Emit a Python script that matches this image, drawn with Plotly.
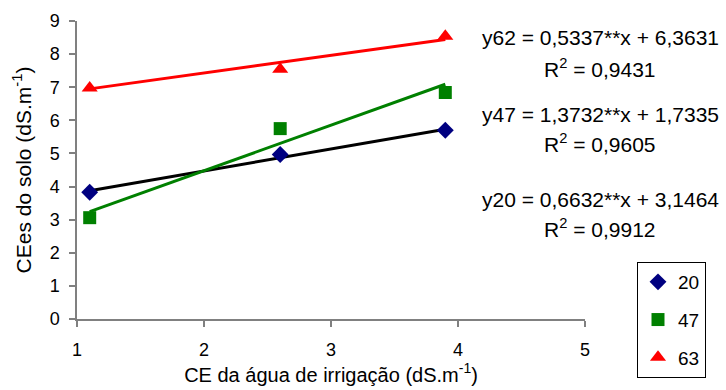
import plotly.graph_objects as go

# Irrigation water EC (x) and soil EC (y) for each treatment
x_vals = [1.1, 2.6, 3.9]
series_names = ["20", "47", "63"]
y_20 = [3.83, 4.97, 5.70]
y_47 = [3.06, 5.75, 6.84]
y_63 = [6.98, 7.54, 8.54]

# Fitted regression coefficients (slope, intercept), R² and equation text
fits = {
    "20": (0.6632, 3.1464, "0,9912", "y20 = 0,6632**x + 3,1464"),
    "47": (1.3732, 1.7335, "0,9605", "y47 = 1,3732**x + 1,7335"),
    "63": (0.5337, 6.3631, "0,9431", "y62 = 0,5337**x + 6,3631"),
}

x_ticks = [1, 2, 3, 4, 5]
y_ticks = list(range(10))

FONT = "Liberation Sans, Arial, sans-serif"
AXIS_GRAY = "#808080"

marker_styles = {
    "20": dict(symbol="diamond", color="#000080", size=13),
    "47": dict(symbol="square", color="#008000", size=13),
    "63": dict(symbol="triangle-up", color="#FF0000", size=14),
}
line_colors = {"20": "#000000", "47": "#008000", "63": "#FF0000"}
series_y = {"20": y_20, "47": y_47, "63": y_63}

fig = go.Figure()

# Regression lines across the measured range
for name in series_names:
    slope, intercept, _, _ = fits[name]
    xs = [min(x_vals), max(x_vals)]
    ys = [slope * v + intercept for v in xs]
    fig.add_trace(go.Scatter(
        x=xs, y=ys, mode="lines",
        line=dict(color=line_colors[name], width=3),
        showlegend=False, hoverinfo="skip",
    ))

# Observed points
for name in series_names:
    fig.add_trace(go.Scatter(
        x=x_vals, y=series_y[name], mode="markers", name=name,
        legendgroup=name,
        marker=dict(symbol=marker_styles[name]["symbol"],
                    color=marker_styles[name]["color"],
                    size=marker_styles[name]["size"],
                    line=dict(width=0)),
    ))

L, R, T, B = 77, 141, 21, 71
W, H = 726, 390
pw, ph = W - L - R, H - T - B


def px_to_paper(px, py):
    return (px - L) / pw, (H - B - py) / ph


# Equation labels: (series, equation row y, R² row y) in pixels
label_rows = [
    ("63", 37, 68),
    ("47", 114, 143),
    ("20", 199, 228),
]
annotations = []
for name, y_eq, y_r2 in label_rows:
    _, _, r2, eq = fits[name]
    ax, ay = px_to_paper(600, y_eq)
    annotations.append(dict(
        text=eq, x=ax, y=ay, xref="paper", yref="paper",
        xanchor="center", yanchor="middle", showarrow=False,
        font=dict(family=FONT, size=21, color="#000000"),
    ))
    ax, ay = px_to_paper(600, y_r2)
    annotations.append(dict(
        text="R<sup>2</sup> = " + r2, x=ax, y=ay, xref="paper", yref="paper",
        xanchor="center", yanchor="middle", showarrow=False,
        font=dict(family=FONT, size=21, color="#000000"),
    ))

lx0, ly0 = px_to_paper(637, 262)

fig.update_layout(
    width=W, height=H,
    margin=dict(l=L, r=R, t=T, b=B, pad=0, autoexpand=False),
    paper_bgcolor="white", plot_bgcolor="white",
    font=dict(family=FONT, size=18, color="#000000"),
    xaxis=dict(
        range=[1, 5], tickvals=x_ticks, ticktext=[str(v) for v in x_ticks],
        showline=True, linecolor=AXIS_GRAY, linewidth=1.5,
        ticks="outside", ticklen=6, tickcolor=AXIS_GRAY, tickwidth=1.5,
        ticklabelstandoff=8, automargin=False,
        showgrid=False, zeroline=False,
        title=dict(text="CE da água de irrigação (dS.m<sup>-1</sup>)",
                   font=dict(family=FONT, size=20), standoff=5),
        tickfont=dict(family=FONT, size=18),
    ),
    yaxis=dict(
        range=[0, 9], tickvals=y_ticks, ticktext=[str(v) for v in y_ticks],
        showline=True, linecolor=AXIS_GRAY, linewidth=1.5,
        ticks="outside", ticklen=6, tickcolor=AXIS_GRAY, tickwidth=1.5,
        ticklabelstandoff=6, automargin=False,
        showgrid=False, zeroline=False,
        title=dict(text="CEes do solo (dS.m<sup>-1</sup>)",
                   font=dict(family=FONT, size=21), standoff=12),
        tickfont=dict(family=FONT, size=18),
    ),
    legend=dict(
        x=lx0, y=ly0, xanchor="left", yanchor="top",
        bordercolor="#000000", borderwidth=1, bgcolor="white",
        font=dict(family=FONT, size=19),
        itemwidth=30, tracegroupgap=10,
    ),
    annotations=annotations,
    showlegend=True,
)

fig.write_html("out.html")
